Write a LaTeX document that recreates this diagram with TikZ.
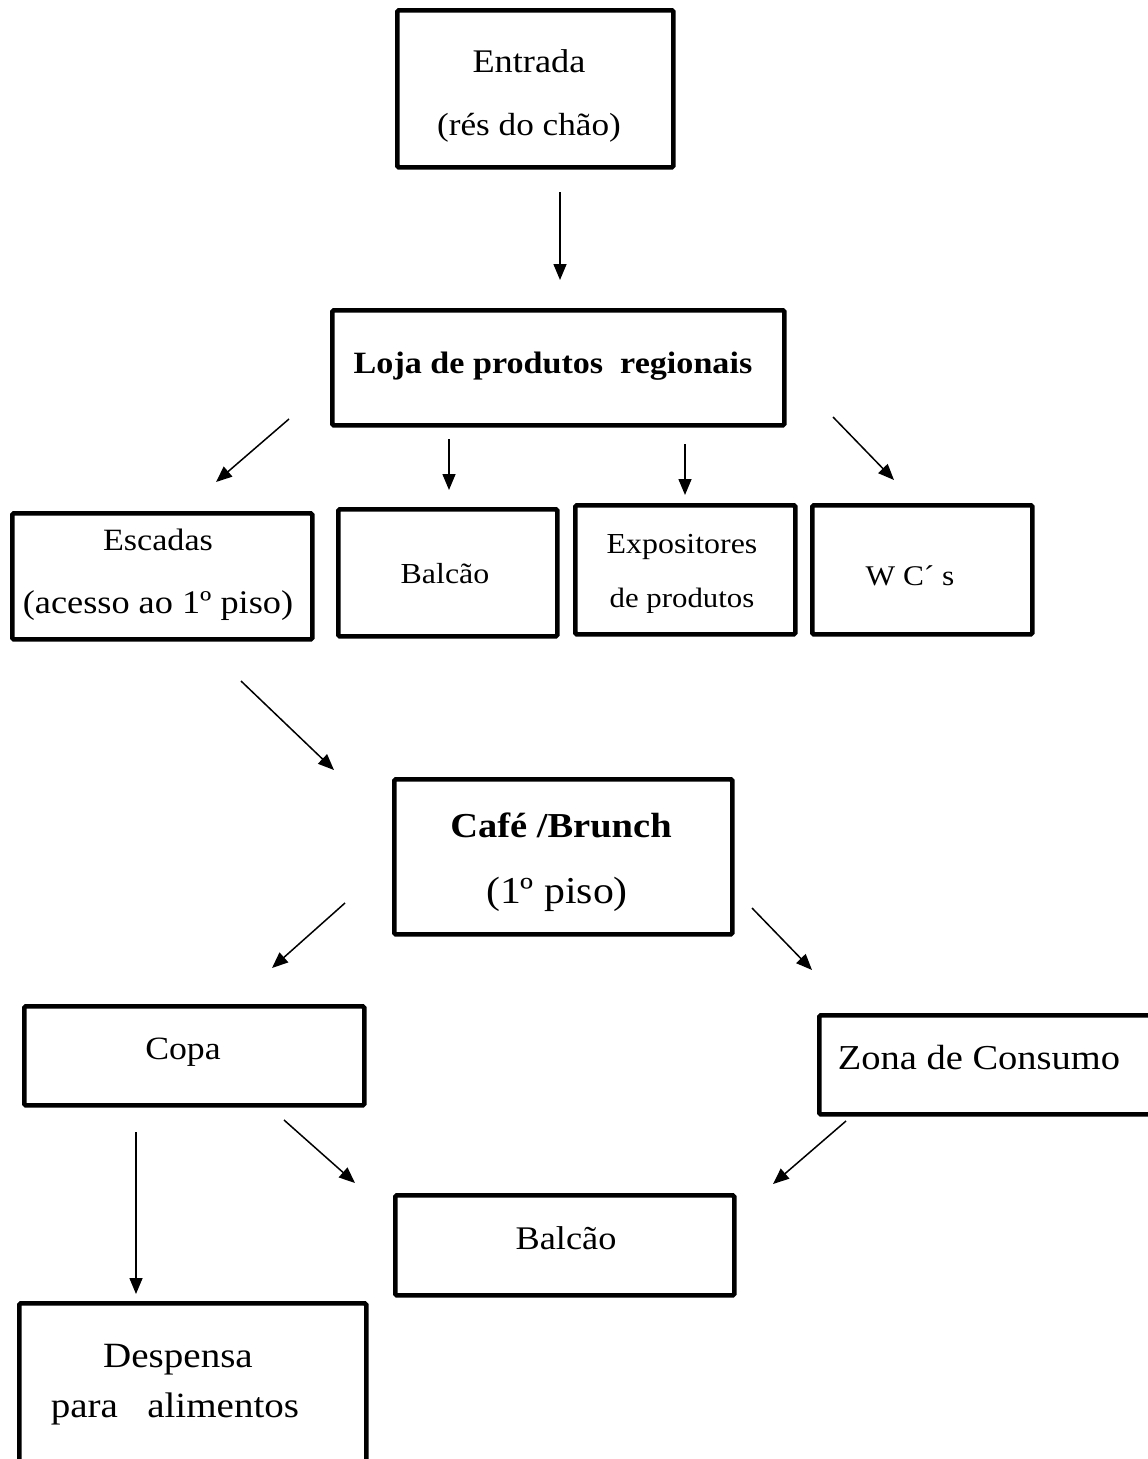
\documentclass[tikz,border=0pt]{standalone}
\usepackage{fontspec}
\setmainfont[FakeStretch=1.1]{Liberation Serif}
\usetikzlibrary{arrows.meta}
\newcommand\myfs[1]{\fontsize{#1}{#1}\selectfont}
\tikzset{
  boxstyle/.style={draw, line width=4.6pt, rounded corners=1.5pt, inner sep=0pt, anchor=north west},
  lbl/.style={anchor=base, inner sep=0pt},
  arr/.style={line width=1.5pt, -{Triangle[length=16pt,width=13pt]}},
}
\begin{document}
\begin{tikzpicture}[x=1pt,y=-1pt]
\useasboundingbox (0,0) rectangle (1148,1459);
\clip (0,0) rectangle (1148,1459);
\fill[white] (0,0) rectangle (1148,1459);

% boxes
\node[boxstyle, minimum width=276pt, minimum height=157pt] (entrada) at (395,8) {};
\node[boxstyle, minimum width=452pt, minimum height=115pt] (loja) at (330,308) {};
\node[boxstyle, minimum width=300pt, minimum height=126pt] (escadas) at (10,511) {};
\node[boxstyle, minimum width=219pt, minimum height=127pt] (balcao1) at (336,507) {};
\node[boxstyle, minimum width=220pt, minimum height=129pt] (expo) at (573,503) {};
\node[boxstyle, minimum width=220pt, minimum height=129pt] (wc) at (810,503) {};
\node[boxstyle, minimum width=338pt, minimum height=155pt] (cafe) at (392,777) {};
\node[boxstyle, minimum width=340pt, minimum height=99pt] (copa) at (22,1004) {};
\node[boxstyle, minimum width=345pt, minimum height=99pt] (zona) at (817,1013) {};
\node[boxstyle, minimum width=339pt, minimum height=100pt] (balcao2) at (393,1193) {};
\node[boxstyle, minimum width=347pt, minimum height=190pt] (despensa) at (17,1301) {};

% texts
\node[lbl, font=\myfs{33}] (t-entrada1) at (529,72) {Entrada};
\node[lbl, font=\myfs{32}] (t-entrada2) at (529,135) {(rés do chão)};
\node[lbl, font=\myfs{31}\bfseries] (t-loja) at (553,373) {Loja de produtos~ regionais};
\node[lbl, font=\myfs{31}] (t-escadas1) at (158,550) {Escadas};
\node[lbl, font=\myfs{33}] (t-escadas2) at (158,613) {(acesso ao 1º piso)};
\node[lbl, font=\myfs{29}] (t-balcao1) at (445,583) {Balcão};
\node[lbl, font=\myfs{29}] (t-expo1) at (682,553) {Expositores};
\node[lbl, font=\myfs{28}] (t-expo2) at (682,607) {de produtos};
\node[lbl, font=\myfs{28.5}] (t-wc) at (910,585) {W C´ s};
\node[lbl, font=\myfs{35}\bfseries] (t-cafe1) at (561,837) {Café /Brunch};
\node[lbl, font=\myfs{38}] (t-cafe2) at (557,903) {(1º piso)};
\node[lbl, font=\myfs{32.5}] (t-copa) at (183,1059) {Copa};
\node[lbl, font=\myfs{35}] (t-zona) at (979,1069) {Zona de Consumo};
\node[lbl, font=\myfs{33}] (t-balcao2) at (566,1249) {Balcão};
\node[lbl, font=\myfs{35.5}] (t-desp1) at (178,1367) {Despensa};
\node[lbl, font=\myfs{35.5}] (t-desp2) at (175,1417) {para~~ alimentos};

% arrow end points
\coordinate (a1s) at (560,192);  \coordinate (a1e) at (560,280);
\coordinate (a2s) at (289,419);  \coordinate (a2e) at (216,482);
\coordinate (a3s) at (449,439);  \coordinate (a3e) at (449,490);
\coordinate (a4s) at (685,444);  \coordinate (a4e) at (685,495);
\coordinate (a5s) at (833,417);  \coordinate (a5e) at (894,480);
\coordinate (a6s) at (241,681);  \coordinate (a6e) at (334,770);
\coordinate (a7s) at (345,903);  \coordinate (a7e) at (272,968);
\coordinate (a8s) at (752,908);  \coordinate (a8e) at (812,970);
\coordinate (a9s) at (136,1132); \coordinate (a9e) at (136,1294);
\coordinate (a10s) at (284,1120); \coordinate (a10e) at (355,1183);
\coordinate (a11s) at (846,1121); \coordinate (a11e) at (773,1184);

\draw[arr] (a1s) -- (a1e);
\draw[arr] (a2s) -- (a2e);
\draw[arr] (a3s) -- (a3e);
\draw[arr] (a4s) -- (a4e);
\draw[arr] (a5s) -- (a5e);
\draw[arr] (a6s) -- (a6e);
\draw[arr] (a7s) -- (a7e);
\draw[arr] (a8s) -- (a8e);
\draw[arr] (a9s) -- (a9e);
\draw[arr] (a10s) -- (a10e);
\draw[arr] (a11s) -- (a11e);
\end{tikzpicture}
\end{document}
